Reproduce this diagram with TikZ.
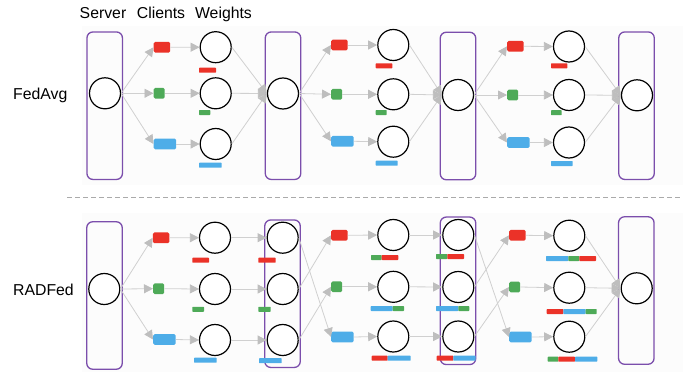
\documentclass[tikz,border=0pt]{standalone}
\usepackage{fontspec}
\setmainfont{Liberation Sans}
\usetikzlibrary{arrows.meta}

\definecolor{cred}{RGB}{235,50,40}
\definecolor{cgreen}{RGB}{78,170,88}
\definecolor{cblue}{RGB}{78,173,232}
\definecolor{cpurple}{RGB}{123,78,172}
\definecolor{cline}{RGB}{208,208,208}
\definecolor{chead}{RGB}{190,190,190}
\definecolor{cpanel}{RGB}{252,252,252}
\definecolor{cdash}{RGB}{170,170,170}

\tikzset{
  srvbox/.style={draw=cpurple, line width=1.3pt, rounded corners=6pt,
                 minimum width=35.5pt, minimum height=147.5pt, inner sep=0pt},
  wcirc/.style={circle, draw=black, line width=1.2pt, minimum size=31pt,
                inner sep=0pt, fill=white},
  client/.style={rectangle, rounded corners=1.5pt, minimum height=10.7pt,
                 inner sep=0pt, anchor=west},
  redc/.style={client, fill=cred, minimum width=16.5pt},
  greenc/.style={client, fill=cgreen, minimum width=11pt},
  bluec/.style={client, fill=cblue, minimum width=22.5pt},
  flow/.style={draw=cline, line width=0.8pt,
               -{Triangle[length=9pt, width=9pt, color=chead]}},
  lbl/.style={font=\fontsize{15.8}{18}\selectfont, inner sep=0pt},
}

% weight bar segment: x1, y-centre, x2, colour
\newcommand\wseg[4]{\fill[#4, rounded corners=0.6pt] (#1,#2-2.5) rectangle (#3,#2+2.5);}

\begin{document}
\begin{tikzpicture}[x=1pt, y=-1pt]
\useasboundingbox (0,0) rectangle (683,372);

% faint panel backgrounds
\fill[cpanel] (82,26) rectangle (683,185);
\fill[cpanel] (82,213) rectangle (683,372);

% column headers and row labels
\node[lbl, anchor=base] (hserver)  at (103,18.5) {Server};
\node[lbl, anchor=base] (hclients) at (161,18.5) {Clients};
\node[lbl, anchor=base] (hweights) at (223.5,18.5) {Weights};
\node[lbl, anchor=base west] (lfedavg) at (13,99.5) {FedAvg};
\node[lbl, anchor=base west] (lradfed) at (13,295) {RADFed};

% separator
\draw[cdash, line width=0.9pt, dash pattern=on 5pt off 3pt] (67,197) -- (682,197);

% ================= FedAvg =================
\node[srvbox] (asb1) at (104.7,105.7) {};
\node[srvbox] (asb2) at (283,105.7) {};
\node[srvbox] (asb3) at (458,106) {};
\node[srvbox] (asb4) at (636.5,105.7) {};
\node[wcirc] (as1) at (105,93.3) {};
\node[wcirc] (as2) at (283,93.5) {};
\node[wcirc] (as3) at (458,95) {};
\node[wcirc] (as4) at (637,95.3) {};

% round 1
\node[redc]   (a1r) at (153.5,47.3) {};
\node[greenc] (a1g) at (153.5,93.3) {};
\node[bluec]  (a1b) at (153.5,144) {};
\node[wcirc] (aw1r) at (215.7,47.2) {};
\node[wcirc] (aw1g) at (215.7,93.3) {};
\node[wcirc] (aw1b) at (215.7,144) {};
\wseg{199}{70.2}{216}{cred}
\wseg{199}{112.5}{210.3}{cgreen}
\wseg{199}{165.2}{221.7}{cblue}

% round 2
\node[redc]   (a2r) at (331,45) {};
\node[greenc] (a2g) at (331,94.3) {};
\node[bluec]  (a2b) at (331,141.3) {};
\node[wcirc] (aw2r) at (393.3,45) {};
\node[wcirc] (aw2g) at (393.3,94.3) {};
\node[wcirc] (aw2b) at (393.3,141.7) {};
\wseg{375.7}{65.8}{392.3}{cred}
\wseg{375.7}{112.5}{386.7}{cgreen}
\wseg{375.7}{163.2}{397.7}{cblue}

% round 3
\node[redc]   (a3r) at (507,46.3) {};
\node[greenc] (a3g) at (507,95) {};
\node[bluec]  (a3b) at (507,142.5) {};
\node[wcirc] (aw3r) at (569,46.5) {};
\node[wcirc] (aw3g) at (569,95) {};
\node[wcirc] (aw3b) at (569,142.5) {};
\wseg{551}{65.8}{567.3}{cred}
\wseg{551}{112.7}{561.7}{cgreen}
\wseg{551}{163.5}{572.7}{cblue}

\foreach \k/\s/\t in {1/as1/as2, 2/as2/as3, 3/as3/as4}{
  \foreach \c in {r,g,b}{
    \draw[flow] (\s.east) -- (a\k\c.west);
    \draw[flow] (a\k\c.east) -- (aw\k\c.west);
    \draw[flow] (aw\k\c.east) -- (\t.west);
  }
}

% ================= RADFed =================
\node[srvbox] (bsb1) at (104.5,295.5) {};
\node[srvbox] (bcb1) at (282.5,293.7) {};
\node[srvbox] (bcb2) at (458,290.8) {};
\node[srvbox] (bsb4) at (636.3,290.5) {};
\node[wcirc] (bs1) at (104.3,289) {};
\node[wcirc] (bs4) at (636.7,288.3) {};

% round 1
\node[redc]   (b1r) at (152.7,237.8) {};
\node[greenc] (b1g) at (153,288.7) {};
\node[bluec]  (b1b) at (153,339.5) {};
\node[wcirc] (bw1r) at (215,237.7) {};
\node[wcirc] (bw1g) at (215,289) {};
\node[wcirc] (bw1b) at (215,340) {};
\wseg{192.3}{260.2}{209}{cred}
\wseg{192.3}{309.3}{204}{cgreen}
\wseg{194}{360.2}{216.7}{cblue}

% exchange column 1
\node[wcirc] (bc1r) at (282.7,237.7) {};
\node[wcirc] (bc1g) at (282.7,289) {};
\node[wcirc] (bc1b) at (282.7,340) {};
\wseg{258.3}{260.2}{275.7}{cred}
\wseg{258.3}{309.3}{270.7}{cgreen}
\wseg{259}{360.7}{281.7}{cblue}

% round 2
\node[redc]   (b2r) at (331,235.3) {};
\node[greenc] (b2g) at (331,286.8) {};
\node[bluec]  (b2b) at (331,337) {};
\node[wcirc] (bw2r) at (393.3,235) {};
\node[wcirc] (bw2g) at (393.3,286.8) {};
\node[wcirc] (bw2b) at (393.3,336.5) {};
\wseg{371}{257.5}{381.7}{cgreen}
\wseg{381.7}{257.5}{398.3}{cred}
\wseg{370.7}{308.5}{392.7}{cblue}
\wseg{392.7}{308.5}{404}{cgreen}
\wseg{371.7}{358.2}{387.7}{cred}
\wseg{387.7}{358.2}{410.7}{cblue}

% exchange column 2
\node[wcirc] (bc2r) at (458.3,235) {};
\node[wcirc] (bc2g) at (458.3,287) {};
\node[wcirc] (bc2b) at (458.3,336.5) {};
\wseg{436}{256.5}{447.3}{cgreen}
\wseg{447.3}{256.5}{464}{cred}
\wseg{436}{308.5}{458.3}{cblue}
\wseg{458.3}{308.5}{469.3}{cgreen}
\wseg{436.7}{358.2}{453.3}{cred}
\wseg{453.3}{358.2}{475.7}{cblue}

% round 3
\node[redc]   (b3r) at (509,235.3) {};
\node[greenc] (b3g) at (509,287) {};
\node[bluec]  (b3b) at (509,337) {};
\node[wcirc] (bw3r) at (569.3,235.7) {};
\node[wcirc] (bw3g) at (569.3,287.7) {};
\node[wcirc] (bw3b) at (569.3,336.7) {};
\wseg{546}{258.5}{568.3}{cblue}
\wseg{568.3}{258.5}{579.3}{cgreen}
\wseg{579.3}{258.5}{596}{cred}
\wseg{546.7}{311.5}{563.3}{cred}
\wseg{563.3}{311.5}{585.7}{cblue}
\wseg{585.7}{311.5}{596.7}{cgreen}
\wseg{547.7}{359.2}{558.3}{cgreen}
\wseg{558.3}{359.2}{575}{cred}
\wseg{575}{359.2}{597.3}{cblue}

% flows
\foreach \c in {r,g,b}{
  \draw[flow] (bs1.east) -- (b1\c.west);
  \foreach \k in {1,2,3}{
    \draw[flow] (b\k\c.east) -- (bw\k\c.west);
  }
  \draw[flow] (bw1\c.east) -- (bc1\c.west);
  \draw[flow] (bw2\c.east) -- (bc2\c.west);
  \draw[flow] (bw3\c.east) -- (bs4.west);
}
% rotated hand-over between rounds
\foreach \k/\n in {1/2, 2/3}{
  \draw[flow] (bc\k r.east) -- (b\n b.west);
  \draw[flow] (bc\k g.east) -- (b\n r.west);
  \draw[flow] (bc\k b.east) -- (b\n g.west);
}
\end{tikzpicture}
\end{document}
